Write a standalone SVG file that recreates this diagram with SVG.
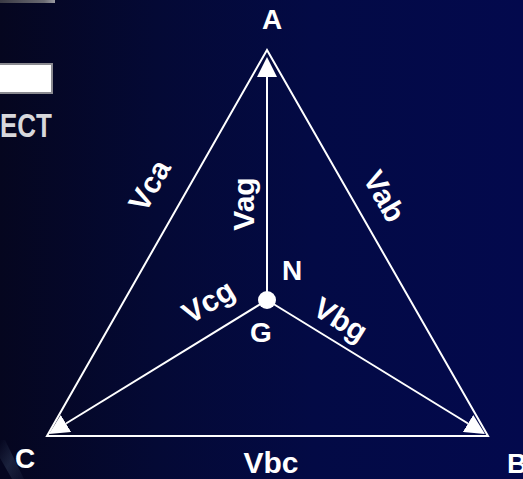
<svg xmlns="http://www.w3.org/2000/svg" width="523" height="479" viewBox="0 0 523 479">
  <defs>
    <linearGradient id="bg" x1="0" y1="0" x2="1" y2="0">
      <stop offset="0" stop-color="#05061f"/>
      <stop offset="0.3" stop-color="#040935"/>
      <stop offset="0.6" stop-color="#030a45"/>
      <stop offset="1" stop-color="#03094d"/>
    </linearGradient>
    <linearGradient id="topbar" x1="0" y1="0" x2="1" y2="0">
      <stop offset="0" stop-color="#3a3a44"/>
      <stop offset="0.8" stop-color="#6a6a72"/>
      <stop offset="1" stop-color="#9a9aa0"/>
    </linearGradient>
    <linearGradient id="streak" x1="0" y1="0" x2="1" y2="1">
      <stop offset="0" stop-color="#7fa0c0" stop-opacity="0"/>
      <stop offset="0.5" stop-color="#7fa0c0" stop-opacity="0.18"/>
      <stop offset="1" stop-color="#7fa0c0" stop-opacity="0.05"/>
    </linearGradient>
    <marker id="arrow" markerUnits="userSpaceOnUse" markerWidth="20" markerHeight="20" refX="0" refY="10" orient="auto">
      <path d="M0,0 L20,10 L0,20 z" fill="#ffffff"/>
    </marker>
    <style>
      .lbl { font-family: "Liberation Sans", Arial, sans-serif; font-weight: bold; font-size: 30px; fill: #ffffff; text-anchor: middle; }
      .node { font-size: 28px; }
      .edge { stroke: #ffffff; stroke-width: 2; fill: none; }
    </style>
  </defs>

  <rect x="0" y="0" width="523" height="479" fill="url(#bg)"/>

  <!-- partial background artifacts -->
  <rect x="0" y="0" width="55" height="3" fill="url(#topbar)"/>
  <rect x="-2" y="64" width="54" height="29" fill="#ffffff" stroke="#8a8a90" stroke-width="2"/>
  <text x="0" y="137" font-family="'Liberation Sans Narrow', 'Liberation Sans', sans-serif" font-weight="bold" font-size="33" fill="#d8d8dc" textLength="52" lengthAdjust="spacingAndGlyphs">ECT</text>
  <polygon points="0,440 5,440 24,479 12,479 0,458" fill="url(#streak)"/>

  <!-- connectors -->
  <g id="connectors">
    <polygon id="triangle" class="edge" points="267,50 488,436 47,436"/>
    <line class="edge" x1="267" y1="300" x2="267" y2="77" marker-end="url(#arrow)"/>
    <line class="edge" x1="267" y1="300" x2="66" y2="423.5" marker-end="url(#arrow)"/>
    <line class="edge" x1="267" y1="300" x2="468" y2="423.5" marker-end="url(#arrow)"/>
  </g>

  <!-- nodes -->
  <g id="node-A"><text class="lbl node" x="272" y="29">A</text></g>
  <g id="node-B"><text class="lbl node" x="517" y="473">B</text></g>
  <g id="node-C"><text class="lbl node" x="25" y="468">C</text></g>
  <g id="node-G">
    <circle cx="267" cy="300" r="9" fill="#ffffff"/>
    <text class="lbl node" x="261" y="342">G</text>
  </g>
  <g id="node-N"><text class="lbl node" x="292" y="280">N</text></g>

  <!-- edge labels -->
  <g id="labels">
    <text class="lbl" x="271" y="473">Vbc</text>
    <text class="lbl" transform="translate(243,204) rotate(-90)" x="0" y="11">Vag</text>
    <text class="lbl" transform="translate(149,185) rotate(-60.3)" x="0" y="11">Vca</text>
    <text class="lbl" transform="translate(385,196) rotate(60.2)" x="0" y="11">Vab</text>
    <text class="lbl" transform="translate(208,301) rotate(-31.6)" x="0" y="11">Vcg</text>
    <text class="lbl" transform="translate(341,319) rotate(31.6)" x="0" y="11">Vbg</text>
  </g>
</svg>
